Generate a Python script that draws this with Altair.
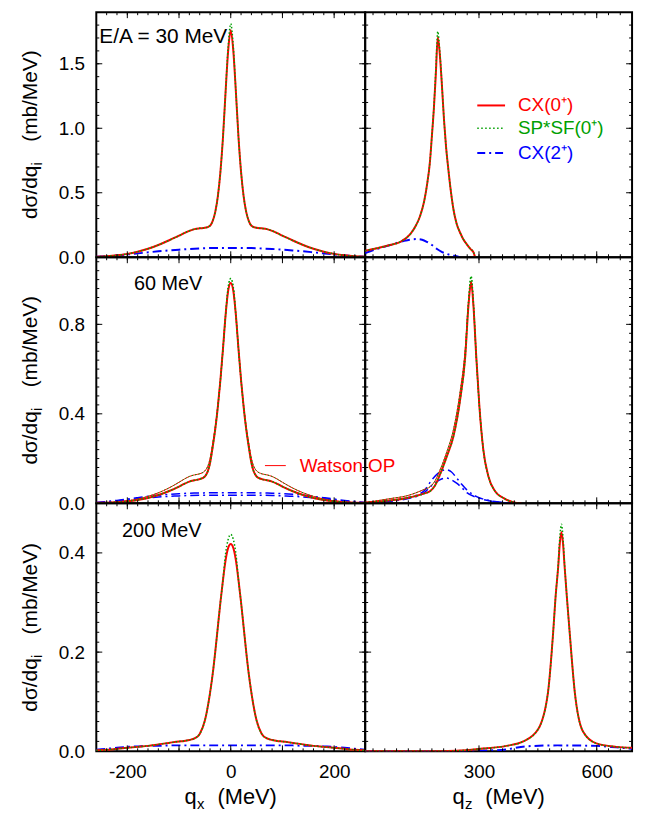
import altair as alt
import pandas as pd

FONT = "Liberation Sans"
RED = "#ff0000"
GREEN = "#00a000"
BLUE = "#0000ff"

# ---------------- data ----------------
# q_x grid for the narrow-peak curves (left column)
QX = [-260, -240, -220, -200, -180, -160, -140, -120, -100, -90, -80, -70, -60, -50, -40, -35, -30, -25, -20, -15, -10, -5,
      0, 5, 10, 15, 20, 25, 30, 35, 40, 50, 60, 70, 80, 90, 100, 120, 140, 160, 180, 200, 220, 240, 260]
# q_x grid for the broad CX(2+) curves
QXB = [-260, -240, -220, -200, -180, -160, -140, -120, -100, -80, -60, -40, -20, 0,
       20, 40, 60, 80, 100, 120, 140, 160, 180, 200, 220, 240, 260]

# E/A = 30 MeV, q_x
TL_CX0 = [0.004, 0.008, 0.015, 0.026, 0.043, 0.066, 0.095, 0.13, 0.167, 0.187, 0.205, 0.218, 0.224, 0.228, 0.245, 0.28, 0.35, 0.47, 0.66, 0.93, 1.28, 1.60,
          1.76, 1.60, 1.28, 0.93, 0.66, 0.47, 0.35, 0.28, 0.245, 0.228, 0.224, 0.218, 0.205, 0.187, 0.167, 0.13, 0.095, 0.066, 0.043, 0.026, 0.015, 0.008, 0.004]
TL_SP = [0.004, 0.008, 0.015, 0.026, 0.043, 0.066, 0.095, 0.13, 0.167, 0.187, 0.205, 0.218, 0.224, 0.228, 0.245, 0.28, 0.35, 0.47, 0.66, 0.93, 1.28, 1.63,
         1.81, 1.63, 1.28, 0.93, 0.66, 0.47, 0.35, 0.28, 0.245, 0.228, 0.224, 0.218, 0.205, 0.187, 0.167, 0.13, 0.095, 0.066, 0.043, 0.026, 0.015, 0.008, 0.004]
TL_CX2 = [0.004, 0.008, 0.014, 0.022, 0.030, 0.038, 0.046, 0.053, 0.059, 0.064, 0.068, 0.071, 0.072, 0.072,
          0.072, 0.071, 0.068, 0.064, 0.059, 0.053, 0.046, 0.038, 0.030, 0.022, 0.014, 0.008, 0.004]

# E/A = 60 MeV, q_x
ML_CX0 = [0.002, 0.003, 0.005, 0.009, 0.015, 0.024, 0.037, 0.054, 0.075, 0.087, 0.097, 0.103, 0.108, 0.12, 0.18, 0.25, 0.33, 0.43, 0.55, 0.69, 0.84, 0.95,
          0.985, 0.95, 0.84, 0.69, 0.55, 0.43, 0.33, 0.25, 0.18, 0.12, 0.108, 0.103, 0.097, 0.087, 0.075, 0.054, 0.037, 0.024, 0.015, 0.009, 0.005, 0.003, 0.002]
ML_SP = [0.002, 0.003, 0.005, 0.009, 0.015, 0.024, 0.037, 0.054, 0.075, 0.087, 0.097, 0.103, 0.108, 0.12, 0.18, 0.25, 0.33, 0.43, 0.55, 0.69, 0.84, 0.965,
         1.005, 0.965, 0.84, 0.69, 0.55, 0.43, 0.33, 0.25, 0.18, 0.12, 0.108, 0.103, 0.097, 0.087, 0.075, 0.054, 0.037, 0.024, 0.015, 0.009, 0.005, 0.003, 0.002]
ML_W_CX0 = [0.002, 0.003, 0.006, 0.011, 0.019, 0.031, 0.047, 0.068, 0.094, 0.108, 0.12, 0.127, 0.132, 0.145, 0.20, 0.265, 0.34, 0.435, 0.55, 0.69, 0.84, 0.95,
            0.985, 0.95, 0.84, 0.69, 0.55, 0.435, 0.34, 0.265, 0.20, 0.145, 0.132, 0.127, 0.12, 0.108, 0.094, 0.068, 0.047, 0.031, 0.019, 0.011, 0.006, 0.003, 0.002]
ML_W_SP = [0.002, 0.003, 0.006, 0.011, 0.019, 0.031, 0.047, 0.068, 0.094, 0.108, 0.12, 0.127, 0.132, 0.145, 0.20, 0.265, 0.34, 0.435, 0.55, 0.69, 0.84, 0.965,
           1.005, 0.965, 0.84, 0.69, 0.55, 0.435, 0.34, 0.265, 0.20, 0.145, 0.132, 0.127, 0.12, 0.108, 0.094, 0.068, 0.047, 0.031, 0.019, 0.011, 0.006, 0.003, 0.002]
ML_CX2 = [0.004, 0.008, 0.013, 0.019, 0.025, 0.031, 0.036, 0.040, 0.043, 0.045, 0.046, 0.047, 0.047, 0.047,
          0.047, 0.047, 0.046, 0.045, 0.043, 0.040, 0.036, 0.031, 0.025, 0.019, 0.013, 0.008, 0.004]
ML_W_CX2 = [0.003, 0.006, 0.010, 0.015, 0.020, 0.024, 0.028, 0.031, 0.033, 0.035, 0.036, 0.036, 0.036, 0.036,
            0.036, 0.036, 0.036, 0.035, 0.033, 0.031, 0.028, 0.024, 0.020, 0.015, 0.010, 0.006, 0.003]

# E/A = 200 MeV, q_x
BL_CX0 = [0.002, 0.003, 0.005, 0.007, 0.009, 0.011, 0.014, 0.017, 0.020, 0.021, 0.023, 0.026, 0.035, 0.062, 0.118, 0.155, 0.20, 0.25, 0.30, 0.345, 0.385, 0.41,
          0.418, 0.41, 0.385, 0.345, 0.30, 0.25, 0.20, 0.155, 0.118, 0.062, 0.035, 0.026, 0.023, 0.021, 0.020, 0.017, 0.014, 0.011, 0.009, 0.007, 0.005, 0.003, 0.002]
BL_SP = [0.002, 0.003, 0.005, 0.007, 0.009, 0.011, 0.014, 0.017, 0.020, 0.021, 0.023, 0.026, 0.035, 0.062, 0.118, 0.155, 0.20, 0.25, 0.30, 0.345, 0.398, 0.427,
         0.437, 0.427, 0.398, 0.345, 0.30, 0.25, 0.20, 0.155, 0.118, 0.062, 0.035, 0.026, 0.023, 0.021, 0.020, 0.017, 0.014, 0.011, 0.009, 0.007, 0.005, 0.003, 0.002]
BL_CX2 = [0.003, 0.005, 0.007, 0.009, 0.010, 0.011, 0.011, 0.012, 0.012, 0.012, 0.012, 0.012, 0.012, 0.012,
          0.012, 0.012, 0.012, 0.012, 0.012, 0.012, 0.011, 0.011, 0.010, 0.009, 0.007, 0.005, 0.003]

# E/A = 30 MeV, q_z
TR_X = [10, 40, 74, 100, 125, 140, 150, 160, 167, 175, 180, 185, 190, 195, 200, 205, 211, 216, 222, 228, 235, 243, 252, 260, 269, 278, 286, 290]
TR_CX0 = [0.051, 0.07, 0.095, 0.12, 0.18, 0.25, 0.32, 0.43, 0.55, 0.74, 0.94, 1.15, 1.42, 1.705, 1.58, 1.36, 1.06, 0.86, 0.68, 0.52, 0.37, 0.26, 0.19, 0.14, 0.10, 0.065, 0.038, 0.0]
TR_SP = [0.051, 0.07, 0.095, 0.12, 0.18, 0.25, 0.32, 0.43, 0.55, 0.74, 0.94, 1.16, 1.45, 1.75, 1.60, 1.37, 1.06, 0.86, 0.68, 0.52, 0.37, 0.26, 0.19, 0.14, 0.10, 0.065, 0.038, 0.0]
TR_X2 = [10, 40, 74, 108, 125, 142, 155, 167, 180, 193, 205, 218, 230, 243, 252]
TR_CX2 = [0.033, 0.064, 0.095, 0.126, 0.137, 0.141, 0.136, 0.12, 0.095, 0.064, 0.042, 0.026, 0.015, 0.008, 0.0]

# E/A = 60 MeV, q_z
MR_X = [10, 32, 74, 117, 159, 176, 188, 201, 218, 235, 252, 265, 273, 280, 286, 293, 301, 311, 324, 341, 362, 387, 408]
MR_CX0 = [0.003, 0.006, 0.013, 0.024, 0.043, 0.055, 0.08, 0.13, 0.21, 0.30, 0.463, 0.657, 0.88, 0.99, 0.88, 0.657, 0.434, 0.24, 0.12, 0.054, 0.024, 0.005, 0.0]
MR_SP = [0.003, 0.006, 0.013, 0.024, 0.043, 0.055, 0.08, 0.13, 0.21, 0.30, 0.463, 0.657, 0.89, 1.015, 0.89, 0.657, 0.434, 0.24, 0.12, 0.054, 0.024, 0.005, 0.0]
MR_W_CX0 = [0.004, 0.009, 0.021, 0.034, 0.061, 0.075, 0.10, 0.15, 0.23, 0.33, 0.50, 0.69, 0.89, 0.99, 0.88, 0.657, 0.434, 0.24, 0.12, 0.054, 0.024, 0.005, 0.0]
MR_W_SP = [0.004, 0.009, 0.021, 0.034, 0.061, 0.075, 0.10, 0.15, 0.23, 0.33, 0.50, 0.69, 0.90, 1.015, 0.89, 0.657, 0.434, 0.24, 0.12, 0.054, 0.024, 0.005, 0.0]
MR_X2 = [10, 74, 117, 159, 180, 200, 216, 230, 243, 256, 269, 294, 328, 362, 400]
MR_CX2 = [0.002, 0.010, 0.024, 0.054, 0.105, 0.14, 0.15, 0.14, 0.113, 0.085, 0.06, 0.030, 0.012, 0.004, 0.0]
MR_W_CX2 = [0.002, 0.009, 0.020, 0.045, 0.08, 0.105, 0.113, 0.105, 0.09, 0.07, 0.048, 0.026, 0.010, 0.003, 0.0]

# E/A = 200 MeV, q_z
BR_X = [10, 100, 200, 243, 303, 370, 413, 451, 476, 489, 495, 502, 506, 510, 514, 518, 524, 531, 544, 565, 599, 650, 690]
BR_CX0 = [0.0, 0.0, 0.0, 0.001, 0.005, 0.011, 0.02, 0.045, 0.12, 0.24, 0.31, 0.374, 0.42, 0.442, 0.42, 0.374, 0.31, 0.24, 0.12, 0.04, 0.016, 0.009, 0.007]
BR_SP = [0.0, 0.0, 0.0, 0.001, 0.005, 0.011, 0.02, 0.045, 0.12, 0.24, 0.31, 0.378, 0.432, 0.458, 0.432, 0.378, 0.31, 0.24, 0.12, 0.04, 0.016, 0.009, 0.007]
BR_X2 = [10, 200, 300, 370, 420, 500, 600, 650, 690]
BR_CX2 = [0.0, 0.0, 0.001, 0.004, 0.010, 0.012, 0.011, 0.008, 0.005]

# axes
XDOM_L = [-260, 260]
XDOM_R = [10, 690]
YDOM = [[0, 1.9], [0, 1.1], [0, 0.5]]
XLAB_L = [-200, 0, 200]
XLAB_R = [300, 600]
YLAB = [[0, 0.5, 1.0, 1.5], [0, 0.4, 0.8], [0, 0.2, 0.4]]
PANEL_TEXT = ["E/A = 30 MeV", "60 MeV", "200 MeV"]
LEGEND = ["CX(0\u207a)", "SP*SF(0\u207a)", "CX(2\u207a)"]

W_L, W_R = 271, 269
HS = [247, 248, 250]

ONE = pd.DataFrame({"k": [0]})


def rng(start, stop, step):
    out = []
    v = start
    while v <= stop + 1e-9:
        out.append(round(v, 6))
        v += step
    return out


def txt(s, x, y, size, color="black", align="left", baseline="alphabetic", angle=0):
    return alt.Chart(ONE).mark_text(text=s, fontSize=size, font=FONT, color=color, align=align,
                                    baseline=baseline, angle=angle).encode(x=alt.value(x), y=alt.value(y))


def panel(curves, xdom, ydom, W, H, xlabels, ylabels, xminor, xmajor, yminor, ymajor, extras):
    xaxis = None
    if xlabels is not None:
        xaxis = alt.Axis(values=xlabels, labelExpr="datum.value", labelFontSize=19, labelFont=FONT,
                         labelColor="black", ticks=False, tickSize=0, domain=False, grid=False,
                         title=None, labelPadding=11, labelFlush=False)
    yaxis = None
    if ylabels is not None:
        yaxis = alt.Axis(values=ylabels, format=".1f", labelFontSize=19, labelFont=FONT,
                         labelColor="black", ticks=False, tickSize=0, domain=False, grid=False,
                         title=None, labelPadding=12, labelFlush=False)
    xenc = alt.X("x:Q", scale=alt.Scale(domain=xdom, nice=False, zero=False), axis=xaxis)
    yenc = alt.Y("y:Q", scale=alt.Scale(domain=ydom, nice=False, zero=False), axis=yaxis)
    layers = []
    for xs, ys, color, dash, width in curves:
        props = dict(color=color, strokeWidth=width, interpolate="monotone", clip=True)
        if dash:
            props["strokeDash"] = dash
        layers.append(alt.Chart(pd.DataFrame({"x": xs, "y": ys})).mark_line(**props).encode(x=xenc, y=yenc))
    # inward ticks on all four sides
    for vals, ln in ((xminor, 3), (xmajor, 6)):
        d = pd.DataFrame({"x": vals})
        layers.append(alt.Chart(d).mark_rule(color="black", strokeWidth=1).encode(
            x=xenc, y=alt.value(H), y2=alt.value(H - ln)))
        layers.append(alt.Chart(d).mark_rule(color="black", strokeWidth=1).encode(
            x=xenc, y=alt.value(0), y2=alt.value(ln)))
    for vals, ln in ((yminor, 3), (ymajor, 6)):
        d = pd.DataFrame({"y": vals})
        layers.append(alt.Chart(d).mark_rule(color="black", strokeWidth=1).encode(
            y=yenc, x=alt.value(0), x2=alt.value(ln)))
        layers.append(alt.Chart(d).mark_rule(color="black", strokeWidth=1).encode(
            y=yenc, x=alt.value(W), x2=alt.value(W - ln)))
    layers += extras
    return alt.layer(*layers).properties(width=W, height=H)


def ytitle(H):
    c = H / 2
    return [
        txt("d\u03c3/dq", -60, c + 85, 21, align="left", angle=270),
        txt("i", -55, c + 31, 15, align="left", angle=270),
        txt("(mb/MeV)", -60, c - 85, 21, align="right", angle=270),
    ]


def xtitle(W, H, sub):
    c = W / 2
    return [
        txt("q", c - 46.5, H + 53, 22, align="left"),
        txt(sub, c - 34, H + 58, 15, align="left"),
        txt("(MeV)", c + 46.5, H + 53, 22, align="right"),
    ]


def xt_left(dom):
    minor = [v for v in rng(-260, 260, 20) if dom[0] < v < dom[1]]
    major = [-200, -100, 0, 100, 200]
    return minor, major


def xt_right(dom):
    minor = [v for v in rng(30, 690, 30) if dom[0] < v < dom[1]]
    major = [300, 600]
    return minor, major


YMINOR = [[v for v in rng(0.1, 1.8, 0.1)], [v for v in rng(0.04, 1.08, 0.04)], [v for v in rng(0.02, 0.48, 0.02)]]
YMAJOR = [[0.5, 1.0, 1.5], [0.4, 0.8], [0.2, 0.4]]

SOLID = None
DOT = [1.5, 2]
DASHDOT = [9, 4, 2, 4]

lx_minor, lx_major = xt_left(XDOM_L)
rx_minor, rx_major = xt_right(XDOM_R)

# ---------- row 1 ----------
p11 = panel(
    [(QXB, TL_CX2, BLUE, DASHDOT, 2), (QX, TL_CX0, RED, SOLID, 2), (QX, TL_SP, GREEN, DOT, 1.5)],
    XDOM_L, YDOM[0], W_L, HS[0], None, YLAB[0], lx_minor, lx_major, YMINOR[0], YMAJOR[0],
    [txt(PANEL_TEXT[0], 3, 25, 21, baseline="middle")] + ytitle(HS[0]))

legend_layers = []
for i, (lab, col, dash, wd) in enumerate(zip(LEGEND, [RED, GREEN, BLUE], [SOLID, DOT, DASHDOT], [2, 1.5, 2])):
    yy = 94 + [0, 23, 48][i]
    rp = dict(color=col, strokeWidth=wd)
    if dash:
        rp["strokeDash"] = [1.5, 2.5] if dash == DOT else [8, 4, 2, 4]
    legend_layers.append(alt.Chart(ONE).mark_rule(**rp).encode(
        x=alt.value(113), x2=alt.value(141), y=alt.value(yy)))
    legend_layers.append(txt(lab, 154, yy, 19, color=col, baseline="middle"))

p12 = panel(
    [(TR_X2, TR_CX2, BLUE, DASHDOT, 2), (TR_X, TR_CX0, RED, SOLID, 2), (TR_X, TR_SP, GREEN, DOT, 1.5)],
    XDOM_R, YDOM[0], W_R, HS[0], None, None, rx_minor, rx_major, YMINOR[0], YMAJOR[0], legend_layers)

# ---------- row 2 ----------
watson = [
    alt.Chart(ONE).mark_rule(color=RED, strokeWidth=1).encode(x=alt.value(170), x2=alt.value(191), y=alt.value(210)),
    txt("Watson OP", 205, 210, 19, color=RED, baseline="middle"),
]
p21 = panel(
    [(QXB, ML_CX2, BLUE, DASHDOT, 1.5), (QXB, ML_W_CX2, BLUE, DASHDOT, 1.5),
     (QX, ML_W_CX0, RED, SOLID, 1), (QX, ML_W_SP, GREEN, DOT, 1),
     (QX, ML_CX0, RED, SOLID, 2), (QX, ML_SP, GREEN, DOT, 1.5)],
    XDOM_L, YDOM[1], W_L, HS[1], None, YLAB[1], lx_minor, lx_major, YMINOR[1], YMAJOR[1],
    [txt(PANEL_TEXT[1], 38, 27, 20, baseline="middle")] + ytitle(HS[1]) + watson)

p22 = panel(
    [(MR_X2, MR_CX2, BLUE, DASHDOT, 1.5), (MR_X2, MR_W_CX2, BLUE, DASHDOT, 1.5),
     (MR_X, MR_W_CX0, RED, SOLID, 1), (MR_X, MR_W_SP, GREEN, DOT, 1),
     (MR_X, MR_CX0, RED, SOLID, 2), (MR_X, MR_SP, GREEN, DOT, 1.5)],
    XDOM_R, YDOM[1], W_R, HS[1], None, None, rx_minor, rx_major, YMINOR[1], YMAJOR[1], [])

# ---------- row 3 ----------
p31 = panel(
    [(QXB, BL_CX2, BLUE, DASHDOT, 2), (QX, BL_CX0, RED, SOLID, 2), (QX, BL_SP, GREEN, DOT, 1.5)],
    XDOM_L, YDOM[2], W_L, HS[2], XLAB_L, YLAB[2], lx_minor, lx_major, YMINOR[2], YMAJOR[2],
    [txt(PANEL_TEXT[2], 26, 28, 20, baseline="middle")] + ytitle(HS[2]) + xtitle(W_L, HS[2], "x"))

p32 = panel(
    [(BR_X2, BR_CX2, BLUE, DASHDOT, 2), (BR_X, BR_CX0, RED, SOLID, 2), (BR_X, BR_SP, GREEN, DOT, 1.5)],
    XDOM_R, YDOM[2], W_R, HS[2], XLAB_R, None, rx_minor, rx_major, YMINOR[2], YMAJOR[2],
    xtitle(W_R, HS[2], "z"))

chart = alt.concat(p11, p12, p21, p22, p31, p32, columns=2, spacing=0, bounds="flush", align="each").configure_view(
    stroke="black", strokeWidth=2
).properties(padding={"left": 11, "top": -1, "right": 5, "bottom": 5})

chart.save("out.html", embed_options={"renderer": "svg", "actions": False})
